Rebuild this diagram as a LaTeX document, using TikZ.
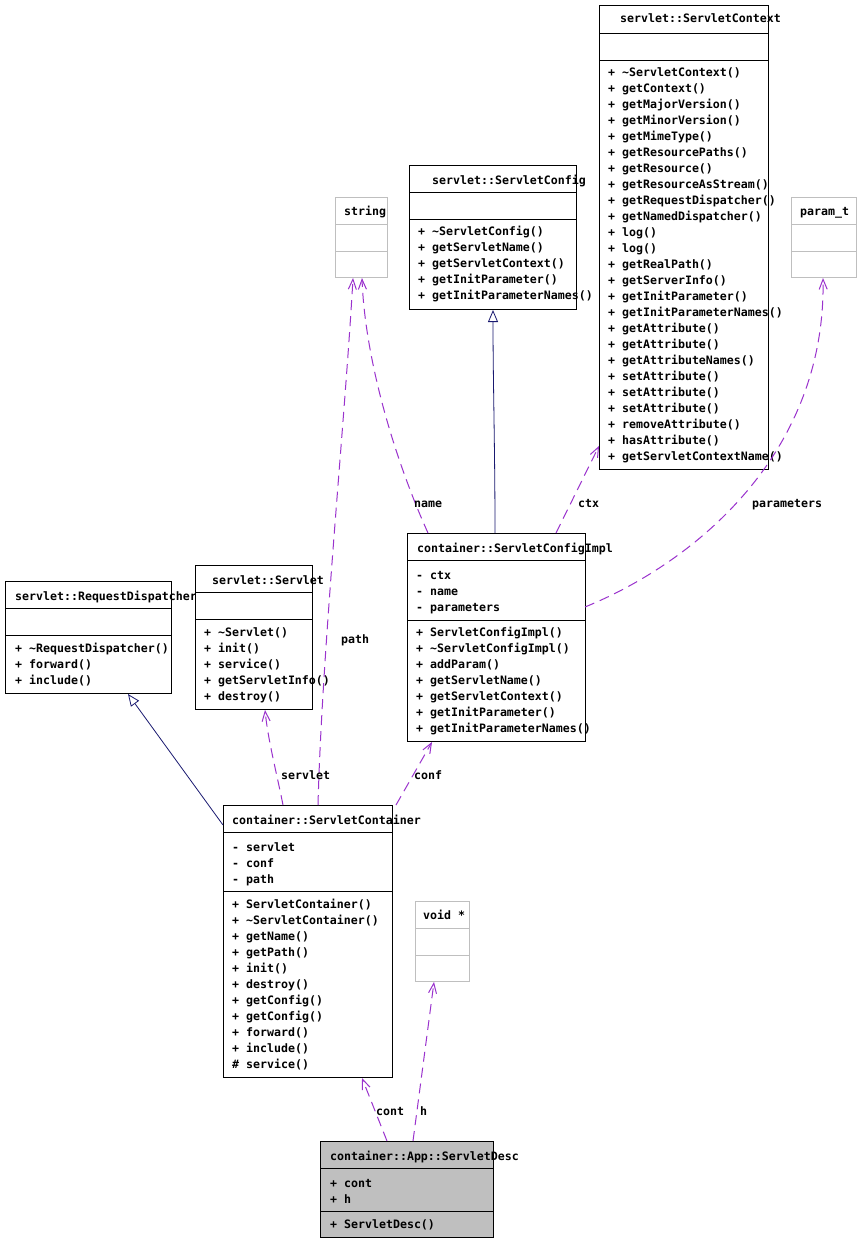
\documentclass[tikz,border=0pt]{standalone}
\usepackage{fontspec}
\setmonofont{DejaVu Sans Mono}
\usetikzlibrary{arrows.meta}
\definecolor{edgepurple}{HTML}{9A32CD}
\definecolor{inhblue}{HTML}{191970}
\definecolor{greyline}{HTML}{BFBFBF}
\definecolor{descfill}{HTML}{BFBFBF}
\tikzset{
  x=1pt, y=-1pt,
  cls/.style={draw=black, line width=1pt, inner sep=0pt, fill=white},
  ext/.style={draw=greyline, line width=1pt, inner sep=0pt, fill=white},
  sep/.style={line width=1pt},
  txt/.style={anchor=base west, inner sep=0pt, font=\ttfamily\bfseries\fontsize{11.6}{12}\selectfont},
  lbl/.style={anchor=base west, inner sep=0pt, font=\ttfamily\bfseries\fontsize{11.6}{12}\selectfont},
  uses/.style={draw=edgepurple, line width=1pt, dash pattern=on 10pt off 6pt, -{Straight Barb[length=10pt,width=8pt]}},
  inh/.style={draw=inhblue, line width=0.8pt, -{Triangle[open,length=12pt,width=10pt,fill=white]}},
}
\begin{document}
\begin{tikzpicture}
\useasboundingbox (0,0) rectangle (860,1242);
\fill[white] (0,0) rectangle (860,1242);

% ---------- servlet::ServletContext
\draw[cls] (599,5) rectangle (768,469);
\coordinate (ctxNW) at (599,5);
\node[inner sep=0pt, minimum size=0pt] (ctxbox) at (683.5,237) {};
\draw[sep] (599,33) -- (768,33) (599,60) -- (768,60);
\node[txt] (ctxT) at (620,23) {servlet::ServletContext};
\foreach \t [count=\i from 0] in {{\textasciitilde ServletContext()},getContext(),getMajorVersion(),getMinorVersion(),getMimeType(),getResourcePaths(),getResource(),getResourceAsStream(),getRequestDispatcher(),getNamedDispatcher(),log(),log(),getRealPath(),getServerInfo(),getInitParameter(),getInitParameterNames(),getAttribute(),getAttribute(),getAttributeNames(),setAttribute(),setAttribute(),setAttribute(),removeAttribute(),hasAttribute(),getServletContextName()}
  \node[txt] (ctxM\i) at (608,{76+16*\i}) {+ \t};

% ---------- servlet::ServletConfig
\draw[cls] (409,165) rectangle (576,309);
\draw[sep] (409,192) -- (576,192) (409,219) -- (576,219);
\node[txt] (cfgT) at (432,184) {servlet::ServletConfig};
\foreach \t [count=\i from 0] in {{\textasciitilde ServletConfig()},getServletName(),getServletContext(),getInitParameter(),getInitParameterNames()}
  \node[txt] (cfgM\i) at (418,{235+16*\i}) {+ \t};

% ---------- string
\draw[ext] (335,197) rectangle (387,277);
\draw[draw=greyline, line width=1pt] (335,224) -- (387,224) (335,251) -- (387,251);
\node[txt] (strT) at (344,215) {string};

% ---------- param_t
\draw[ext] (791,197) rectangle (856,277);
\draw[draw=greyline, line width=1pt] (791,224) -- (856,224) (791,251) -- (856,251);
\node[txt] (parT) at (800,215) {param\_t};

% ---------- servlet::RequestDispatcher
\draw[cls] (5,581) rectangle (171,693);
\draw[sep] (5,608) -- (171,608) (5,635) -- (171,635);
\node[txt] (rdT) at (15,600) {servlet::RequestDispatcher};
\foreach \t [count=\i from 0] in {{\textasciitilde RequestDispatcher()},forward(),include()}
  \node[txt] (rdM\i) at (15,{652+16*\i}) {+ \t};

% ---------- servlet::Servlet
\draw[cls] (195,565) rectangle (312,709);
\draw[sep] (195,592) -- (312,592) (195,619) -- (312,619);
\node[txt] (svT) at (212,584) {servlet::Servlet};
\foreach \t [count=\i from 0] in {{\textasciitilde Servlet()},init(),service(),getServletInfo(),destroy()}
  \node[txt] (svM\i) at (204,{636+16*\i}) {+ \t};

% ---------- container::ServletConfigImpl
\draw[cls] (407,533) rectangle (585,741);
\draw[sep] (407,560) -- (585,560) (407,620) -- (585,620);
\node[txt] (impT) at (417,552) {container::ServletConfigImpl};
\foreach \t [count=\i from 0] in {ctx,name,parameters}
  \node[txt] (impA\i) at (416,{579+16*\i}) {- \t};
\foreach \t [count=\i from 0] in {ServletConfigImpl(),{\textasciitilde ServletConfigImpl()},addParam(),getServletName(),getServletContext(),getInitParameter(),getInitParameterNames()}
  \node[txt] (impM\i) at (416,{636+16*\i}) {+ \t};

% ---------- container::ServletContainer
\draw[cls] (223,805) rectangle (392,1077);
\draw[sep] (223,832) -- (392,832) (223,891) -- (392,891);
\node[txt] (conT) at (232,824) {container::ServletContainer};
\foreach \t [count=\i from 0] in {servlet,conf,path}
  \node[txt] (conA\i) at (232,{851+16*\i}) {- \t};
\foreach \t [count=\i from 0] in {ServletContainer(),{\textasciitilde ServletContainer()},getName(),getPath(),init(),destroy(),getConfig(),getConfig(),forward(),include()}
  \node[txt] (conM\i) at (232,{908+16*\i}) {+ \t};
\node[txt] (conM10) at (232,1068) {\# service()};

% ---------- void *
\draw[ext] (415,901) rectangle (469,981);
\draw[draw=greyline, line width=1pt] (415,928) -- (469,928) (415,955) -- (469,955);
\node[txt] (voidT) at (423,919) {void *};

% ---------- container::App::ServletDesc
\draw[cls, fill=descfill] (320,1141) rectangle (493,1237);
\draw[sep] (320,1168) -- (493,1168) (320,1211) -- (493,1211);
\node[txt] (descT) at (330,1160) {container::App::ServletDesc};
\node[txt] (descA0) at (330,1187) {+ cont};
\node[txt] (descA1) at (330,1203) {+ h};
\node[txt] (descM0) at (330,1228) {+ ServletDesc()};

% ---------- anchor coordinates for connectors
\coordinate (impTop1) at (495,533);
\coordinate (cfgBot) at (493,310);
\coordinate (conLeft) at (223,825);
\coordinate (rdBot) at (128,694);
\coordinate (impTop2) at (556,533);
\coordinate (ctxLeft) at (599,446);
\coordinate (impTop0) at (428,533);
\coordinate (strBot2) at (362,278);
\coordinate (impRight) at (585,607);
\coordinate (parBot) at (823,278);
\coordinate (conTop0) at (283,805);
\coordinate (svBot) at (265,710);
\coordinate (conTop1) at (318,805);
\coordinate (strBot1) at (353,278);
\coordinate (conTop2) at (396,805);
\coordinate (impBot) at (432,742);
\coordinate (descTop0) at (387,1141);
\coordinate (conBot) at (362,1078);
\coordinate (descTop1) at (413,1141);
\coordinate (voidBot) at (434,982);

% ---------- connectors
\draw[inh] (impTop1) .. controls (495,450) and (493,380) .. (cfgBot);
\draw[inh] (conLeft) -- (rdBot);
\draw[uses] (impTop2) -- (ctxLeft);
\draw[uses] (impTop0) .. controls (395,460) and (365,360) .. (strBot2);
\draw[uses] (impRight) .. controls (700,560) and (826,450) .. (parBot);
\draw[uses] (conTop0) .. controls (276,770) and (268,740) .. (svBot);
\draw[uses] (conTop1) .. controls (322,650) and (345,420) .. (strBot1);
\draw[uses] (conTop2) -- (impBot);
\draw[uses] (descTop0) -- (conBot);
\draw[uses] (descTop1) -- (voidBot);

% ---------- labels
\node[lbl] (lName) at (414,507) {name};
\node[lbl] (lCtx) at (578,507) {ctx};
\node[lbl] (lPar) at (752,507) {parameters};
\node[lbl] (lPath) at (341,643) {path};
\node[lbl] (lServlet) at (281,779) {servlet};
\node[lbl] (lConf) at (414,779) {conf};
\node[lbl] (lCont) at (376,1115) {cont};
\node[lbl] (lH) at (420,1115) {h};
\end{tikzpicture}
\end{document}
